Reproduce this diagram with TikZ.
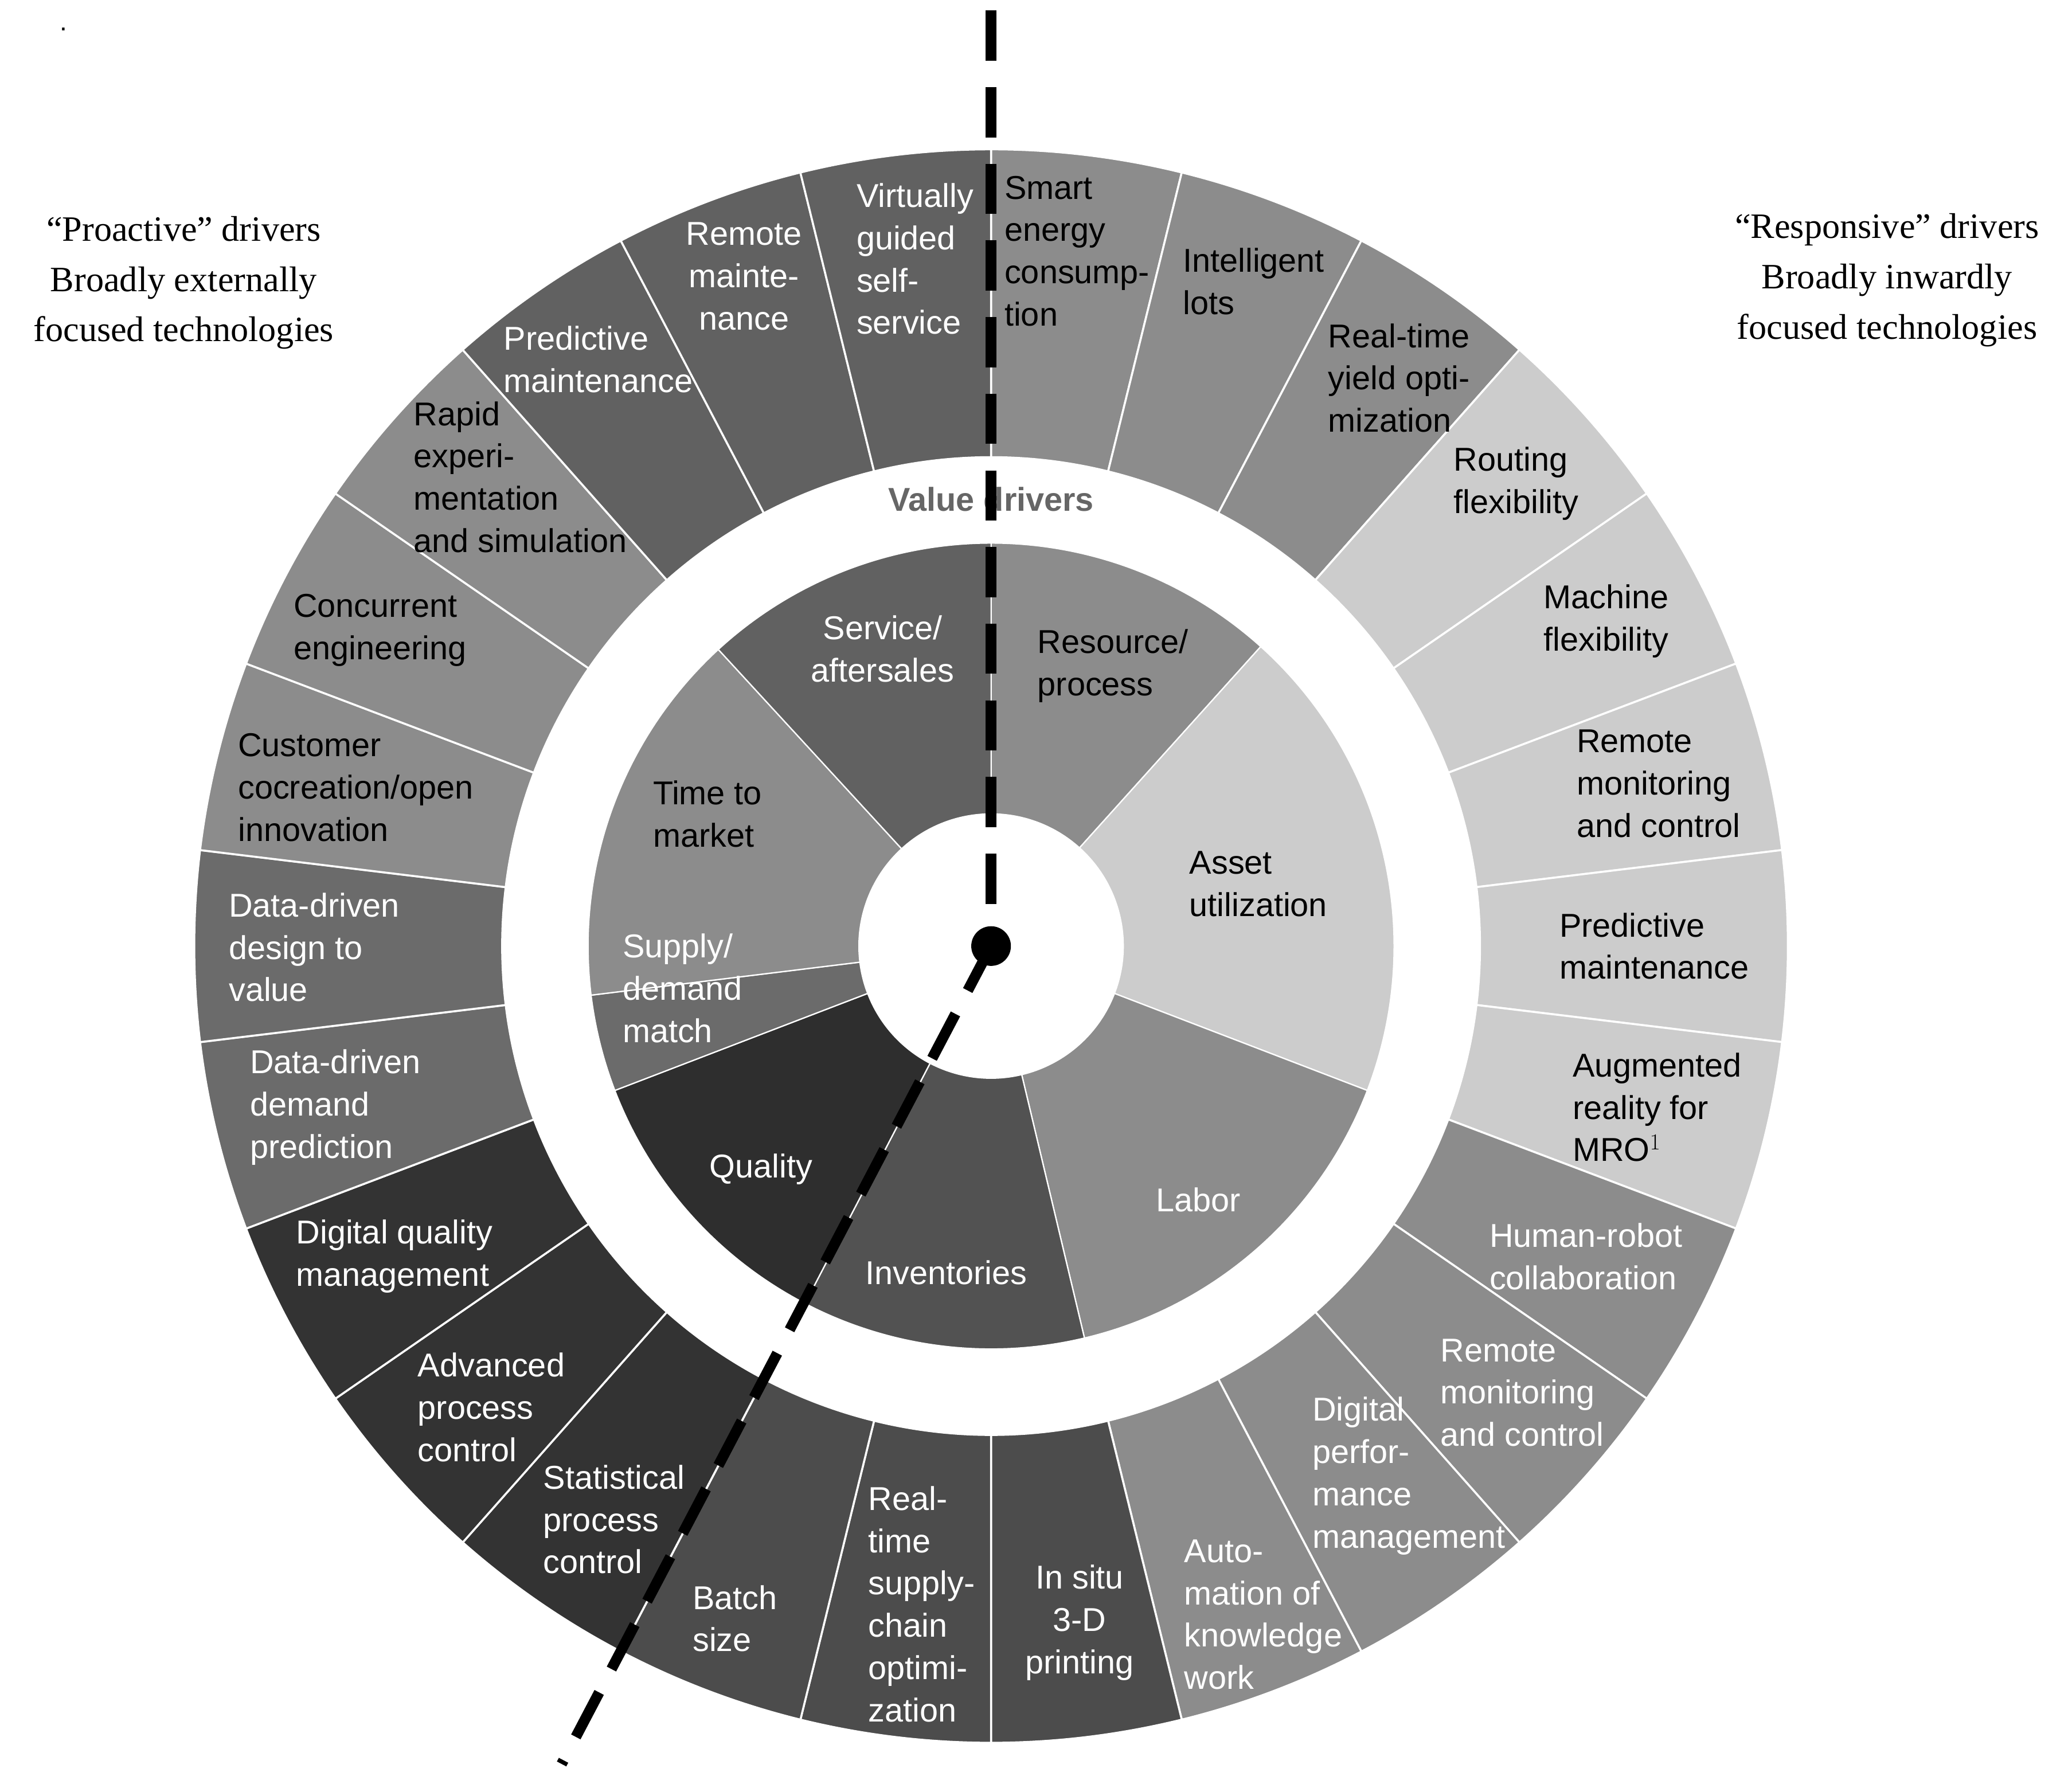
\documentclass[tikz,border=0pt]{standalone}
\usepackage{fontspec}
\setmainfont{Liberation Sans}
\newfontfamily\serifside{Liberation Serif}
\begin{document}
\begin{tikzpicture}[x=1pt,y=-1pt,
  lab/.style={font=\fontsize{25}{32}\selectfont,align=left,anchor=west,inner sep=0pt},
  labc/.style={font=\fontsize{25}{32}\selectfont,align=center,inner sep=0pt},
  side/.style={font=\serifside\fontsize{27}{38}\selectfont,align=center,inner sep=0pt},
  dashln/.style={line width=8pt,dash pattern=on 38pt off 20pt}]
\useasboundingbox (0,0) rectangle (1568,1350);
\fill[white] (0,0) rectangle (1568,1350);
\begin{scope}[shift={(750,716)},yscale=-1]
  \def\a{13.846}
  \foreach \i/\c in {0/45,1/45,2/45,3/20,4/20,5/20,6/20,7/20,8/45,9/45,10/45,11/45,12/70,13/70,14/70,15/80,16/80,17/80,18/58,19/58,20/45,21/45,22/45,23/62,24/62,25/62}{
    \pgfmathsetmacro\s{90-\i*\a}
    \pgfmathsetmacro\e{90-(\i+1)*\a}
    \filldraw[fill=black!\c,draw=white,line width=1.5pt] (\s:370) arc[start angle=\s,end angle=\e,radius=370] -- (\e:603) arc[start angle=\e,end angle=\s,radius=603] -- cycle;
  }
  \foreach \s/\e/\c in {90/48/45,48/-21/20,-21/-76.6/45,-76.6/-117.5/68,-117.5/-159/82,-159/-173/58,-173/-227.4/45,-227.4/-270/62}{
    \filldraw[fill=black!\c,draw=white,line width=1pt] (\s:100) arc[start angle=\s,end angle=\e,radius=100] -- (\e:305) arc[start angle=\e,end angle=\s,radius=305] -- cycle;
  }
\end{scope}
% outer labels
\node[lab] (o1) at (760,190) {Smart\\energy\\consump-\\tion};
\node[lab] (o2) at (895,213) {Intelligent\\lots};
\node[lab] (o3) at (1005,286) {Real-time\\yield opti-\\mization};
\node[lab] (o4) at (1100,366) {Routing\\flexibility};
\node[lab] (o5) at (1168,470) {Machine\\flexibility};
\node[lab] (o6) at (1193,593) {Remote\\monitoring\\and control};
\node[lab] (o7) at (1180,716) {Predictive\\maintenance};
\node[lab] (o8) at (1190,838) {Augmented\\reality for\\MRO$^{1}$};
\node[lab,white] (o9) at (1127,951) {Human-robot\\collaboration};
\node[lab,white] (o10) at (1090,1054) {Remote\\monitoring\\and control};
\node[lab,white] (o11) at (993,1117) {Digital\\perfor-\\mance\\management};
\node[lab,white] (o12) at (896,1222) {Auto-\\mation of\\knowledge\\work};
\node[labc,white] (o13) at (817,1228) {In situ\\3-D\\printing};
\node[lab,white] (o14) at (657,1214) {Real-\\time\\supply-\\chain\\optimi-\\zation};
\node[lab,white] (o15) at (524,1225) {Batch\\size};
\node[lab,white] (o16) at (411,1150) {Statistical\\process\\control};
\node[lab,white] (o17) at (316,1065) {Advanced\\process\\control};
\node[lab,white] (o18) at (224,951) {Digital quality\\management};
\node[lab,white] (o19) at (189,838) {Data-driven\\demand\\prediction};
\node[lab,white] (o20) at (173,717) {Data-driven\\design to\\value};
\node[lab] (o21) at (180,596) {Customer\\cocreation/open\\innovation};
\node[lab] (o22) at (222,477) {Concurrent\\engineering};
\node[lab] (o23) at (313,361) {Rapid\\experi-\\mentation\\and simulation};
\node[lab,white] (o24) at (381,272) {Predictive\\maintenance};
\node[labc,white] (o25) at (563,209) {Remote\\mainte-\\nance};
\node[lab,white] (o26) at (648,196) {Virtually\\guided\\self-\\service};
% inner labels
\node[labc,white] (i1) at (668,491) {Service/\\aftersales};
\node[lab] (i2) at (785,504) {Resource/\\process};
\node[lab] (i3) at (900,669) {Asset\\utilization};
\node[labc,white] (i4) at (907,908) {Labor};
\node[labc,white] (i5) at (716,963) {Inventories};
\node[labc,white] (i6) at (576,885) {Quality};
\node[lab,white] (i7) at (471,748) {Supply/\\demand\\match};
\node[lab] (i8) at (494,616) {Time to\\market};
\node[labc,black!60,font=\bfseries\fontsize{25}{30}\selectfont] (vd) at (750,378) {Value drivers};
% side texts
\node[side] (pl) at (139,214) {“Proactive” drivers\\Broadly externally\\focused technologies};
\node[side] (pr) at (1428,212) {“Responsive” drivers\\Broadly inwardly\\focused technologies};
\node[inner sep=0pt,font=\fontsize{20}{20}\selectfont] (dot) at (48,22) {.};
% dashed axis
\coordinate (top) at (750,8);
\coordinate (c) at (750,716);
\coordinate (bot) at (425,1335);
\draw[dashln] (top) -- (c);
\draw[dashln] (c) -- (bot);
\fill[black] (c) circle[radius=15];
\end{tikzpicture}
\end{document}
